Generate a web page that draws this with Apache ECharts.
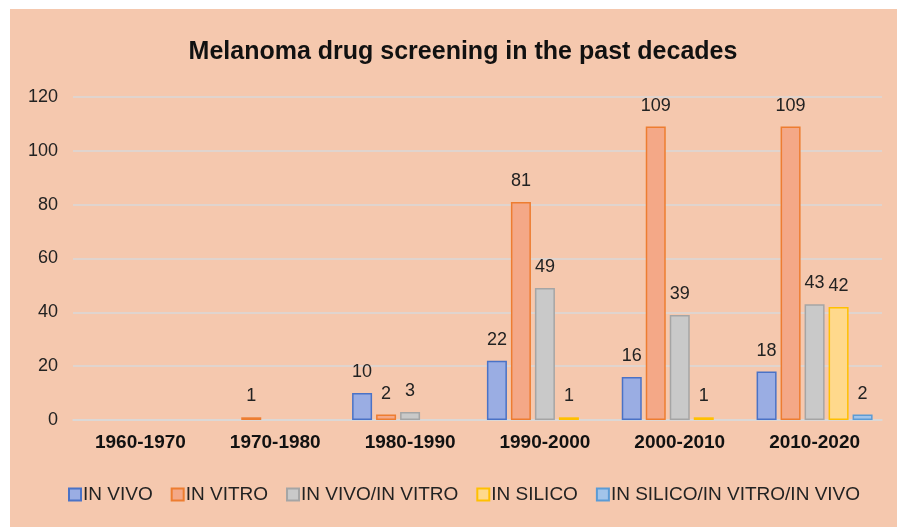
<!DOCTYPE html>
<html>
<head>
<meta charset="utf-8">
<script src="https://cdn.jsdelivr.net/npm/echarts@6/dist/echarts.min.js"></script>
<style>
html,body{margin:0;padding:0;background:#fff;width:897px;height:527px;overflow:hidden;}
#chart{position:absolute;left:10px;top:9px;width:887px;height:518px;}
</style>
</head>
<body>
<div id="chart"></div>
<script>
var categories = ['1960-1970','1970-1980','1980-1990','1990-2000','2000-2010','2010-2020'];
var seriesNames = ['IN VIVO','IN VITRO','IN VIVO/IN VITRO','IN SILICO','IN SILICO/IN VITRO/IN VIVO'];
var inVivo = [0,0,10,22,16,18];
var inVitro = [0,1,2,81,109,109];
var inVivoInVitro = [0,0,3,49,39,43];
var inSilico = [0,0,0,1,1,42];
var inSilicoAll = [0,0,0,0,0,2];
var yTicks = [0,20,40,60,80,100,120];

var fills = ['#9aade3','#f4a887','#c9c9c9','#ffd98c','#a2c4ea'];
var borders = ['#4a72c6','#ed7d31','#a5a5a5','#ffc000','#5b9bd5'];
var allData = [inVivo,inVitro,inVivoInVitro,inSilico,inSilicoAll];
var FONT = 'Liberation Sans, Arial, sans-serif';

var chart = echarts.init(document.getElementById('chart'));
var series = allData.map(function(arr,i){
  return {
    name: seriesNames[i],
    type: 'bar',
    barWidth: 20,
    barGap: '20%',
    data: arr.map(function(v){ return v === 0 ? null : v; }),
    itemStyle: {color: fills[i], borderColor: borders[i], borderWidth: 1.5},
    label: {show: true, position: 'top', distance: 12, color: '#222', fontSize: 18, fontFamily: FONT}
  };
});
chart.setOption({
  backgroundColor: '#f5c8ae',
  animation: false,
  title: {
    text: 'Melanoma drug screening in the past decades',
    left: 448,
    textAlign: 'center',
    top: 26,
    textStyle: {fontSize: 25, fontWeight: 'bold', color: '#111', fontFamily: FONT}
  },
  legend: {
    top: 471,
    left: 53,
    itemWidth: 12,
    itemHeight: 12,
    itemGap: 18,
    icon: 'rect',
    textStyle: {fontSize: 19, color: '#222', fontFamily: FONT, padding: [0,0,0,-3]},
    data: seriesNames
  },
  grid: {left: 63, right: 15, top: 88, bottom: 107, containLabel: false},
  xAxis: {
    type: 'category',
    data: categories,
    axisLine: {lineStyle: {color: '#d9d9d9', width: 1.5}},
    axisTick: {show: false},
    axisLabel: {fontSize: 19, fontWeight: 'bold', color: '#111', margin: 13, fontFamily: FONT}
  },
  yAxis: {
    type: 'value',
    min: yTicks[0],
    max: yTicks[yTicks.length-1],
    interval: 20,
    axisLine: {show: false},
    axisTick: {show: false},
    splitLine: {lineStyle: {color: '#d9d9d9', width: 1.5}},
    axisLabel: {fontSize: 18, color: '#222', margin: 15, fontFamily: FONT}
  },
  series: series
});
</script>
</body>
</html>
